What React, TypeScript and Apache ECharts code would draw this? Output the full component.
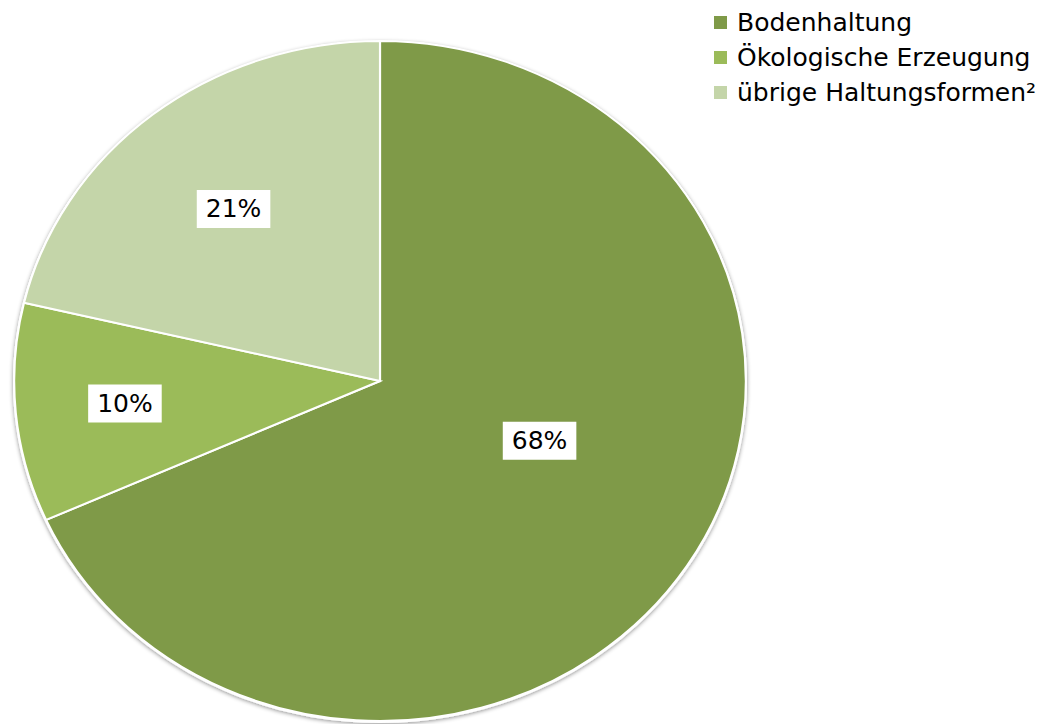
import React, { useEffect, useRef } from "react";
import * as echarts from "echarts";

const categories = ["Bodenhaltung", "Ökologische Erzeugung", "übrige Haltungsformen²"];
const values = [68.3, 10.4, 21.3];
const colors = ["#7F9A48", "#9BBB59", "#C4D5A9"];

// label placement (style): radial fraction and angle shift in degrees
const labelRadius = [0.47, 0.7, 0.645];
const labelAngleShift = [-11, 0, 0];

const CX = 380;
const CY = 381;
const RX = 366;
const RY = 340;
const FONT = "'DejaVu Sans', 'Liberation Sans', Arial, sans-serif";

export default function App() {
  const ref = useRef<HTMLDivElement>(null);
  useEffect(() => {
    document.body.style.margin = "0";
    const chart = echarts.init(ref.current!, null, { renderer: "svg" });
    const total = values.reduce((a, b) => a + b, 0);
    const series = categories.map((name, i) => ({
      type: "custom",
      name,
      coordinateSystem: "none",
      itemStyle: { color: colors[i] },
      data: [[values[i]]],
      renderItem: (params: any, api: any) => {
        const v = api.value(0);
        let cum = 0;
        for (let k = 0; k < i; k++) cum += values[k];
        const start = -Math.PI / 2 + (cum / total) * Math.PI * 2;
        const end = start + (v / total) * Math.PI * 2;
        const mid = (start + end) / 2 + (labelAngleShift[i] * Math.PI) / 180;
        const lf = labelRadius[i];
        const lx = CX + lf * RX * Math.cos(mid);
        const ly = CY + lf * RY * Math.sin(mid);
        return {
          type: "group",
          children: [
            {
              type: "sector",
              x: CX,
              y: CY,
              scaleX: RX / RY,
              shape: { cx: 0, cy: 0, r: RY, r0: 0, startAngle: start, endAngle: end, clockwise: true },
              style: { fill: colors[i], stroke: "#ffffff", lineWidth: 2 },
            },
            {
              type: "text",
              x: lx,
              y: ly,
              z2: 10,
              style: {
                text: Math.round((v / total) * 100) + "%",
                font: "25px " + FONT,
                fill: "#000",
                align: "center",
                verticalAlign: "middle",
                backgroundColor: "#ffffff",
                padding: [7, 9, 6, 9],
              },
            },
          ],
        };
      },
    }));
    chart.setOption({
      animation: false,
      color: colors,
      graphic: [
        {
          type: "ellipse",
          z: -10,
          silent: true,
          shape: { cx: CX, cy: CY + 1, rx: RX + 1, ry: RY + 1 },
          style: { fill: "#ffffff", shadowBlur: 4, shadowColor: "rgba(0,0,0,0.45)", shadowOffsetY: 1 },
        },
      ],
      legend: {
        orient: "vertical",
        left: 709,
        top: 5,
        icon: "rect",
        itemWidth: 13,
        itemHeight: 13,
        itemGap: 10,
        data: categories,
        textStyle: {
          fontFamily: FONT,
          fontSize: 25,
          color: "#000",
          lineHeight: 25,
          padding: [0, 0, 0, 5],
        },
      },
      series,
    });
    return () => chart.dispose();
  }, []);
  return <div ref={ref} style={{ width: 1051, height: 724 }} />;
}
